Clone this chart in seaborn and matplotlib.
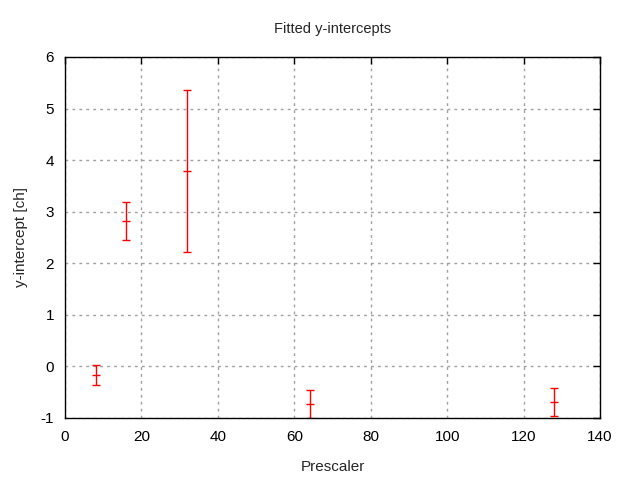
import numpy as np
import matplotlib.pyplot as plt
import seaborn as sns

prescaler = [8, 16, 32, 64, 128]
intercept = [-0.17, 2.82, 3.78, -0.73, -0.69]
intercept_err = [0.20, 0.37, 1.57, 0.27, 0.28]

sns.set_style("white")
plt.rcParams['font.family'] = ['Liberation Sans', 'DejaVu Sans']
plt.rcParams['font.size'] = 10
plt.rcParams['axes.unicode_minus'] = False

fig = plt.figure(figsize=(6.4, 4.8), dpi=100)
ax = fig.add_axes([0.1016, 0.1292, 0.8359, 0.7521])

ax.errorbar(prescaler, intercept, yerr=intercept_err, fmt='_', color='red',
            ecolor='red', elinewidth=1, capsize=3, capthick=1, markersize=6, mew=1)

ax.set_xlim(0, 140)
ax.set_ylim(-1, 6)
ax.set_xticks(np.arange(0, 141, 20))
ax.set_yticks(np.arange(-1, 7, 1))
ax.grid(True, color='#a0a0a0', linestyle=(0, (2, 3)), linewidth=1)
for s in ax.spines.values():
    s.set_color('black')
    s.set_linewidth(1)
ax.tick_params(direction='in', length=5, width=1, top=True, right=True,
               labelsize=11, colors='black')
ax.tick_params(axis='x', pad=9)
ax.tick_params(axis='y', pad=8)

ax.set_title('Fitted y-intercepts', fontsize=10.5, pad=17)
ax.set_xlabel('Prescaler', fontsize=11, labelpad=11)
ax.set_ylabel('y-intercept [ch]', fontsize=11, labelpad=9)

fig.savefig('out.png', dpi=100)
